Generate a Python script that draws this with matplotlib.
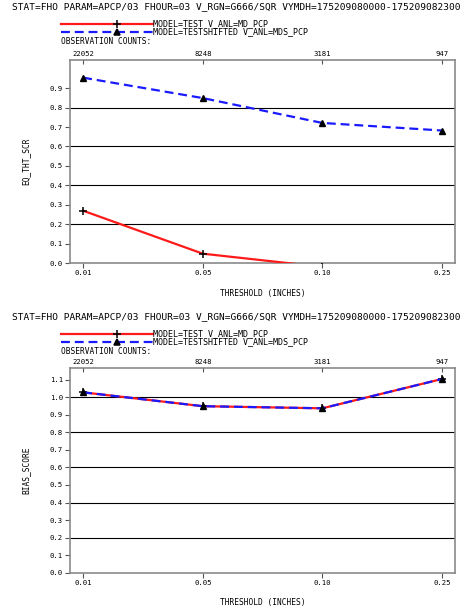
import matplotlib

matplotlib.use("Agg")

import matplotlib.pyplot as plt
from matplotlib.lines import Line2D

# data
thresholds = ["0.01", "0.05", "0.10", "0.25"]
obs_counts = ["22052", "8248", "3181", "947"]
eq_tht_test = [0.269, 0.048, -0.02, -0.05]
eq_tht_shifted = [0.954, 0.849, 0.721, 0.682]
bias_test = [1.028, 0.949, 0.937, 1.104]
bias_shifted = [1.028, 0.949, 0.937, 1.104]

title = "STAT=FHO PARAM=APCP/03 FHOUR=03 V_RGN=G666/SQR VYMDH=175209080000-175209082300"
label_test = "MODEL=TEST V_ANL=MD_PCP"
label_shifted = "MODEL=TESTSHIFTED V_ANL=MDS_PCP"

W, H = 474, 611
FONT = "DejaVu Sans Mono"
RED = "#ff1a1a"
BLUE = "#1a1aff"
FRAME = "#8a8a8a"

plt.rcParams["font.family"] = FONT

fig = plt.figure(figsize=(W / 100, H / 100), dpi=100)


def fx(px):
    return px / W


def fy(py):
    return 1 - py / H


def panel(top, bottom, test, shifted, ylim, yticks, grid, ylabel, title_y):
    ax = fig.add_axes([fx(70), fy(bottom), fx(454.5) - fx(70), fy(top) - fy(bottom)])
    x = list(range(len(thresholds)))
    ax.plot(x, test, "-", color=RED, lw=1.6, marker="+", ms=6, mec="black",
            mew=1.1, zorder=3)
    ax.plot(x, shifted, "--", color=BLUE, lw=1.6, dashes=(4, 2.2), marker="^",
            ms=4.2, mec="black", mfc="black", zorder=4)
    for g in grid:
        ax.axhline(g, color="black", lw=0.8, zorder=1)
    ax.set_xlim(-0.11, 3.105)
    ax.set_ylim(*ylim)
    ax.set_xticks(x)
    ax.set_xticklabels(thresholds, fontsize=5.2)
    ax.set_yticks(yticks)
    ax.set_yticklabels([f"{v:.1f}" for v in yticks], fontsize=5.2)
    ax.tick_params(axis="both", direction="out", length=3.6, width=0.8,
                   color="#555555", pad=1.5)
    for s in ax.spines.values():
        s.set_color(FRAME)
        s.set_linewidth(1.2)
    ax.set_xlabel("THRESHOLD (INCHES)", fontsize=5.7, labelpad=9)
    ax.set_ylabel(ylabel, fontsize=5.7, labelpad=14)

    top_ax = ax.twiny()
    top_ax.set_xlim(ax.get_xlim())
    top_ax.set_xticks(x)
    top_ax.set_xticklabels(obs_counts, fontsize=5.2)
    top_ax.tick_params(axis="x", direction="in", length=3, width=0.8,
                       color="#555555", pad=2.5)
    for s in top_ax.spines.values():
        s.set_visible(False)

    # header: title, hand-placed legend, observation-count caption
    fig.text(fx(12), fy(title_y), title, fontsize=6.8, ha="left", va="center")
    for dy, color, ls, mk, ms, lbl in (
        (17, RED, "-", "+", 6, label_test),
        (25, BLUE, (0, (4, 2.2)), "^", 4.2, label_shifted),
    ):
        yy = fy(title_y + dy)
        fig.add_artist(Line2D([fx(61), fx(153)], [yy, yy], color=color, lw=1.6,
                              ls=ls, transform=fig.transFigure))
        fig.add_artist(Line2D([fx(117)], [yy], marker=mk, ms=ms, mec="black",
                              mfc="black", mew=1.1, transform=fig.transFigure))
        fig.text(fx(153), yy, lbl, fontsize=6.0, ha="left", va="center")
    fig.text(fx(61), fy(title_y + 35), "OBSERVATION COUNTS:", fontsize=5.7,
             ha="left", va="center")
    return ax


panel(60, 263, eq_tht_test, eq_tht_shifted, (0, 1.045),
      [i / 10 for i in range(10)], [0.2, 0.4, 0.6, 0.8], "EQ_THT_SCR", 7)
panel(368.3, 572.7, bias_test, bias_shifted, (0, 1.165),
      [i / 10 for i in range(12)], [0.2, 0.4, 0.6, 0.8, 1.0], "BIAS_SCORE", 317)

fig.savefig("out.png", dpi=100)
